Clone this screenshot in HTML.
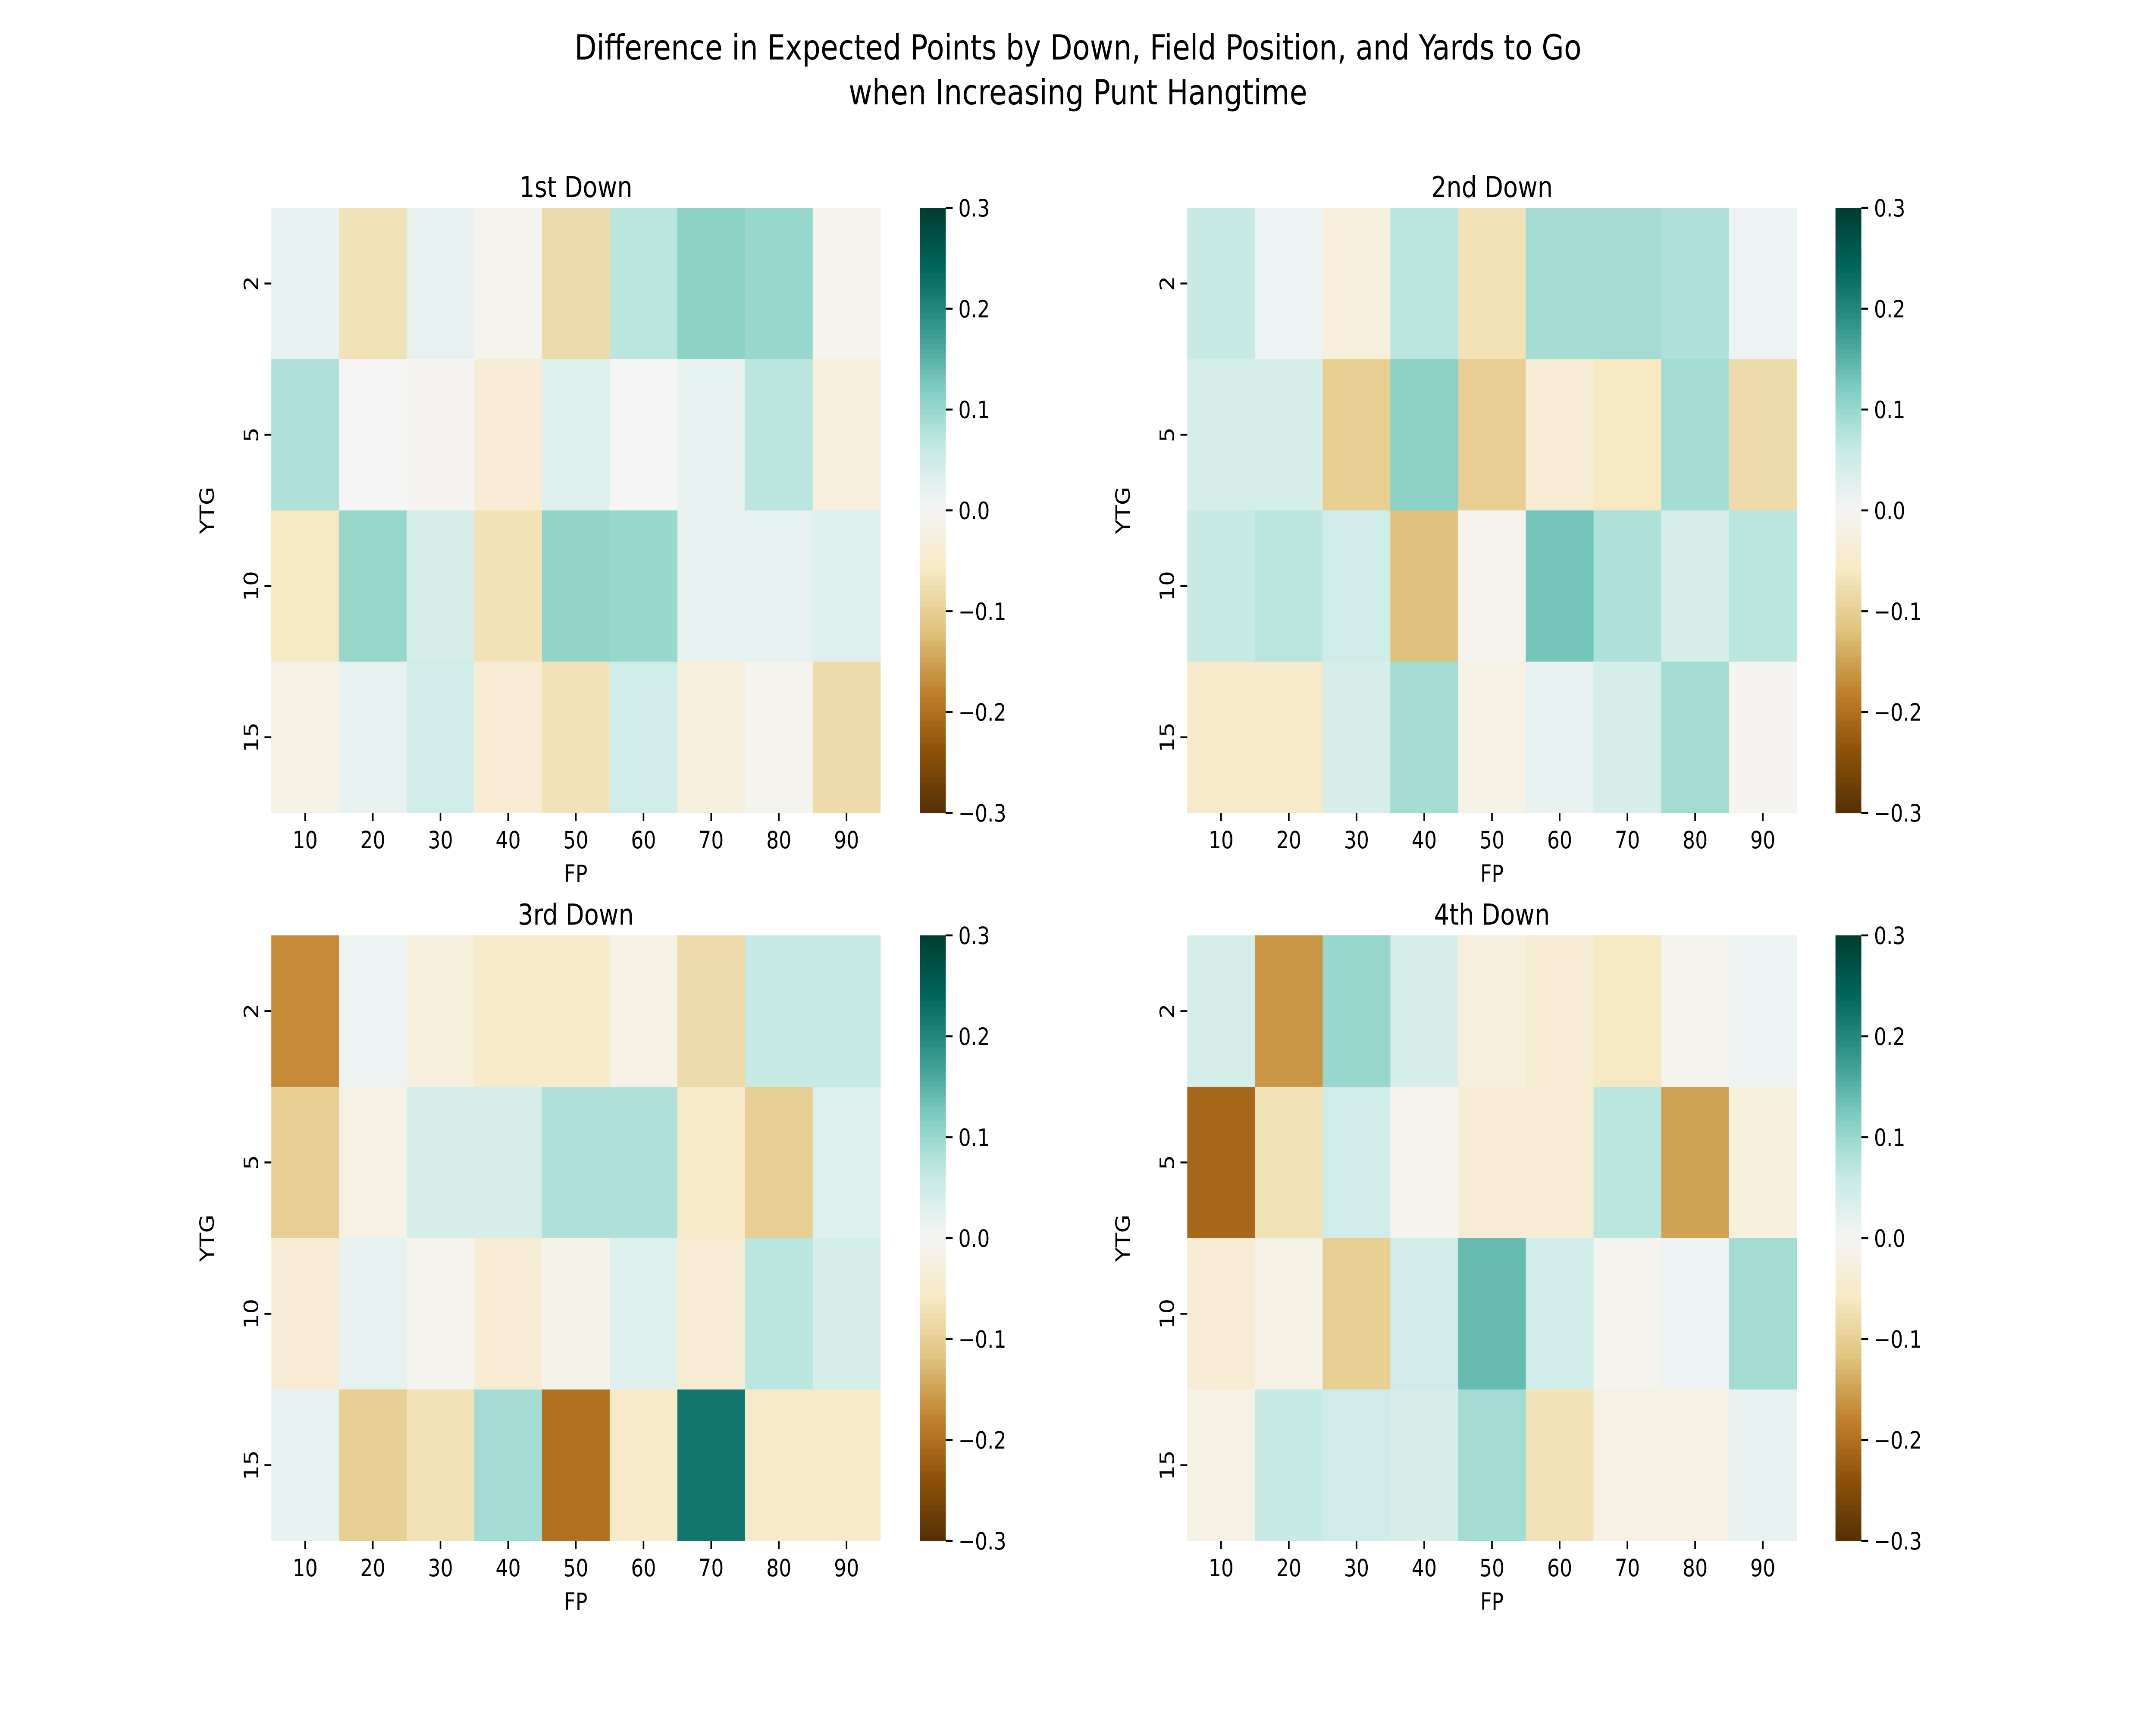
<!DOCTYPE html>
<html><head><meta charset="utf-8"><style>html,body{margin:0;padding:0;background:#fff;width:100%;height:100%;overflow:hidden}svg{display:block;width:100vw;height:100vh}text{font-family:"DejaVu Sans","Liberation Sans",sans-serif;fill:#000}</style></head>
<body>
<svg id="fig" viewBox="0 0 6000 4000" preserveAspectRatio="none" xmlns="http://www.w3.org/2000/svg">
<rect width="6000" height="4000" fill="#fff"/>
<text x="3000" y="138" font-size="80" text-anchor="middle">Difference in Expected Points by Down, Field Position, and Yards to Go</text>
<text x="3000" y="242" font-size="80" text-anchor="middle">when Increasing Punt Hangtime</text>
</svg>
<script>
const fpCats=[10,20,30,40,50,60,70,80,90];
const ytgCats=[2,5,10,15];
const cbTicks=[-0.3,-0.2,-0.1,0.0,0.1,0.2,0.3];
const down1=[[0.02,-0.07,0.02,-0.01,-0.08,0.07,0.11,0.10,-0.01],[0.08,0.0,-0.005,-0.04,0.03,0.0,0.02,0.07,-0.03],[-0.06,0.10,0.04,-0.07,0.105,0.10,0.02,0.02,0.03],[-0.02,0.02,0.05,-0.04,-0.07,0.05,-0.03,-0.01,-0.08]];
const down2=[[0.06,0.01,-0.03,0.07,-0.07,0.09,0.09,0.08,0.01],[0.04,0.04,-0.10,0.11,-0.10,-0.04,-0.06,0.09,-0.08],[0.06,0.07,0.05,-0.12,-0.01,0.13,0.08,0.04,0.07],[-0.05,-0.05,0.04,0.09,-0.02,0.02,0.04,0.09,-0.005]];
const down3=[[-0.17,0.01,-0.03,-0.05,-0.05,-0.02,-0.08,0.06,0.06],[-0.10,-0.02,0.04,0.04,0.08,0.08,-0.05,-0.10,0.03],[-0.04,0.02,-0.01,-0.04,-0.015,0.03,-0.04,0.07,0.04],[0.02,-0.10,-0.07,0.09,-0.20,-0.05,0.22,-0.05,-0.05]];
const down4=[[0.04,-0.16,0.10,0.04,-0.03,-0.04,-0.06,-0.01,0.01],[-0.21,-0.07,0.05,-0.01,-0.04,-0.04,0.07,-0.15,-0.03],[-0.04,-0.02,-0.10,0.05,0.14,0.05,-0.01,0.01,0.09],[-0.02,0.06,0.05,0.04,0.09,-0.07,-0.02,-0.02,0.02]];
const titles=["1st Down","2nd Down","3rd Down","4th Down"];

const anchors=["#543005","#8c510a","#bf812d","#dfc27d","#f6e8c3","#f5f5f5","#c7eae5","#80cdc1","#35978f","#01665e","#003c30"];
function hex(h){return [1,3,5].map(i=>parseInt(h.substr(i,2),16));}
function cmap(v){let t=(v+0.3)/0.6;t=Math.max(0,Math.min(1,t));const p=t*10;const i=Math.min(9,Math.floor(p));const f=p-i;const a=hex(anchors[i]),b=hex(anchors[i+1]);return `rgb(${a.map((c,k)=>Math.round(c+(b[k]-c)*f)).join(",")})`;}
const NS="http://www.w3.org/2000/svg";
const svg=document.getElementById("fig");
function el(tag,attrs,txt){const e=document.createElementNS(NS,tag);for(const k in attrs)e.setAttribute(k,attrs[k]);if(txt!==undefined)e.textContent=txt;svg.appendChild(e);return e;}
const panels=[{d:down1,x0:755,x1:2450,y0:482,y1:1885,cb:2560},{d:down2,x0:3304,x1:5000,y0:482,y1:1885,cb:5108},{d:down3,x0:755,x1:2450,y0:2169,y1:3573,cb:2560},{d:down4,x0:3304,x1:5000,y0:2169,y1:3573,cb:5108}];
panels.forEach((P,pi)=>{
  const cw=(P.x1-P.x0)/fpCats.length, ch=(P.y1-P.y0)/ytgCats.length;
  const xS=i=>P.x0+i*cw, yS=j=>P.y0+j*ch;
  ytgCats.forEach((y,j)=>fpCats.forEach((x,i)=>{
    const r=el("rect",{x:xS(i),y:yS(j),width:cw+0.8,height:ch+0.8,fill:cmap(P.d[j][i])});
    
    
  }));
  let t=el("text",{x:(P.x0+P.x1)/2,y:P.y0-25,"font-size":"67","text-anchor":"middle"},titles[pi]);
  
  
  fpCats.forEach((x,i)=>{
    const cx=xS(i)+cw/2;
    const l=el("line",{x1:cx,x2:cx,y1:P.y1,y2:P.y1+19,stroke:"#000","stroke-width":4.4});
    
    
    const tx=el("text",{x:cx,y:P.y1+82,"font-size":"55","text-anchor":"middle"},x);
    
    
  });
  ytgCats.forEach((y,j)=>{
    const cy=yS(j)+ch/2;
    const l=el("line",{x1:P.x0-19,x2:P.x0,y1:cy,y2:cy,stroke:"#000","stroke-width":4.4});
    
    
    const tx=el("text",{x:0,y:0,"font-size":"55","text-anchor":"middle",transform:`translate(${P.x0-37},${cy}) rotate(-90)`},y);
    
    
  });
  let xl=el("text",{x:(P.x0+P.x1)/2,y:P.y1+160,"font-size":"55","text-anchor":"middle"},"FP");
  
  
  let yl=el("text",{x:0,y:0,"font-size":"55","text-anchor":"middle",transform:`translate(${P.x0-160},${(P.y0+P.y1)/2}) rotate(-90)`},"YTG");
  
  
  const cbW=72, N=120, hh=(P.y1-P.y0)/N;
  for(let k=0;k<N;k++){
    const v=0.3-0.6*(k+0.5)/N;
    const r=el("rect",{x:P.cb,y:P.y0+k*hh,width:cbW,height:hh+0.8,fill:cmap(v)});
    
    
  }
  cbTicks.forEach(v=>{
    const cy=P.y1-(v+0.3)/0.6*(P.y1-P.y0);
    const l=el("line",{x1:P.cb+cbW,x2:P.cb+cbW+19,y1:cy,y2:cy,stroke:"#000","stroke-width":4.4});
    
    
    const tx=el("text",{x:P.cb+cbW+35,y:cy+20,"font-size":"55"},v<0?"\u2212"+Math.abs(v).toFixed(1):v.toFixed(1));
    
    
  });
});
</script>
</body></html>
